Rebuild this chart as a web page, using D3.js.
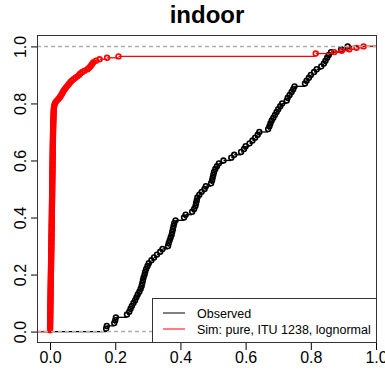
<!DOCTYPE html>
<html>
<head>
<meta charset="utf-8">
<script src="https://cdn.jsdelivr.net/npm/d3@7"></script>
<style>
  body { margin: 0; background: #fff; }
  svg text { font-family: "Liberation Sans", Arial, Helvetica, sans-serif; }
</style>
</head>
<body>
<svg id="chart"></svg>
<script>
var obsValues = [
  0.172, 0.174, 0.197, 0.200, 0.202,
  0.236, 0.243, 0.247, 0.251, 0.256, 0.261, 0.265, 0.269, 0.274, 0.278,
  0.281, 0.283, 0.285, 0.287, 0.290, 0.292, 0.295, 0.299, 0.303, 0.311,
  0.319, 0.328, 0.338, 0.345, 0.362, 0.364, 0.367, 0.370, 0.373, 0.375,
  0.377, 0.379, 0.381, 0.385, 0.411, 0.416, 0.436, 0.442, 0.446, 0.448,
  0.450, 0.452, 0.458, 0.465, 0.474, 0.478, 0.494, 0.497, 0.499, 0.501,
  0.503, 0.507, 0.512, 0.518, 0.532, 0.556, 0.565, 0.586, 0.595, 0.600,
  0.612, 0.621, 0.629, 0.637, 0.642, 0.669, 0.673, 0.676, 0.680, 0.685,
  0.690, 0.695, 0.700, 0.706, 0.712, 0.726, 0.729, 0.735, 0.741, 0.746,
  0.750, 0.782, 0.787, 0.794, 0.800, 0.810, 0.818, 0.832, 0.840, 0.845,
  0.850, 0.855, 0.862, 0.893, 0.913
];

// simulated sample (read off the red ECDF)
var simValues = [
  0.00002, 0.00008, 0.00013, 0.00021, 0.00027, 0.00034, 0.00040, 0.00047, 0.00052, 0.00060,
  0.00066, 0.00071, 0.00079, 0.00085, 0.00090, 0.00098, 0.00104, 0.00109, 0.00116, 0.00122,
  0.00130, 0.00137, 0.00143, 0.00150, 0.00158, 0.00163, 0.00171, 0.00178, 0.00184, 0.00191,
  0.00199, 0.00206, 0.00213, 0.00219, 0.00227, 0.00235, 0.00241, 0.00248, 0.00256, 0.00262,
  0.00270, 0.00277, 0.00285, 0.00291, 0.00298, 0.00306, 0.00313, 0.00320, 0.00327, 0.00335,
  0.00342, 0.00349, 0.00355, 0.00363, 0.00370, 0.00377, 0.00384, 0.00391, 0.00398, 0.00405,
  0.00412, 0.00419, 0.00426, 0.00432, 0.00440, 0.00447, 0.00453, 0.00460, 0.00467, 0.00474,
  0.00480, 0.00487, 0.00494, 0.00500, 0.00507, 0.00513, 0.00520, 0.00527, 0.00533, 0.00540,
  0.00546, 0.00553, 0.00559, 0.00566, 0.00572, 0.00578, 0.00585, 0.00591, 0.00597, 0.00604,
  0.00610, 0.00616, 0.00622, 0.00629, 0.00635, 0.00641, 0.00647, 0.00653, 0.00659, 0.00665,
  0.00671, 0.00677, 0.00683, 0.00689, 0.00695, 0.00701, 0.00707, 0.00713, 0.00719, 0.00725,
  0.00731, 0.00737, 0.00742, 0.00748, 0.00754, 0.00760, 0.00765, 0.00771, 0.00777, 0.00783,
  0.00789, 0.00795, 0.00801, 0.00807, 0.00813, 0.00820, 0.00826, 0.00832, 0.00839, 0.00846,
  0.00853, 0.00860, 0.00867, 0.00875, 0.00883, 0.00891, 0.00899, 0.00908, 0.00917, 0.00926,
  0.00936, 0.00946, 0.00957, 0.00968, 0.00980, 0.00992, 0.01005, 0.01018, 0.01032, 0.01047,
  0.01063, 0.01080, 0.01098, 0.01117, 0.01137, 0.01160,
  0.0120, 0.0128, 0.0137, 0.0150, 0.0175, 0.0210, 0.0250, 0.0290, 0.0320, 0.0345,
  0.0370, 0.0395, 0.0420, 0.0450, 0.0485, 0.0520, 0.0555, 0.0590, 0.0630, 0.0665,
  0.0720, 0.0780, 0.0840, 0.0890, 0.0930, 0.0990, 0.1060, 0.1150, 0.1200, 0.1240,
  0.1270, 0.1300, 0.1335, 0.1410, 0.1520, 0.1750, 0.2100, 0.8150, 0.8150, 0.8720,
  0.8950, 0.9180, 0.9400, 0.9620
];

var xTicks = [0, 0.2, 0.4, 0.6, 0.8, 1.0];
var yTicks = [0, 0.2, 0.4, 0.6, 0.8, 1.0];
var refLines = [0, 1];
var title = "indoor";
var legendLabels = ["Observed", "Sim: pure, ITU 1238, lognormal"];
var seriesColors = ["#000000", "#ff0000"];

var width = 385, height = 371;
var box = { left: 37, right: 377, top: 35, bottom: 343 };
var xlim = [-0.04, 1.003], ylim = [-0.04, 1.04];

var svg = d3.select('#chart')
  .attr('width', width)
  .attr('height', height);

var xScale = d3.scaleLinear().domain(xlim).range([box.left, box.right]);
var yScale = d3.scaleLinear().domain(ylim).range([box.bottom, box.top]);

// empirical cdf: unique sorted values with cumulative proportion
function ecdf(values) {
  var sorted = values.slice().sort(d3.ascending);
  var n = sorted.length, count = 0;
  return d3.rollups(sorted, function(v) { return v.length; }, function(d) { return d; })
    .map(function(g) { count += g[1]; return { x: g[0], y: count / n }; });
}

// horizontal step segments, extended to the plot edges
function steps(pts) {
  var segs = [{ x0: xlim[0], x1: pts[0].x, y: 0 }];
  pts.forEach(function(p, i) {
    segs.push({ x0: p.x, x1: i < pts.length - 1 ? pts[i + 1].x : xlim[1], y: p.y });
  });
  return segs;
}

svg.append('clipPath').attr('id', 'clip')
  .append('rect')
  .attr('x', box.left).attr('y', box.top)
  .attr('width', box.right - box.left).attr('height', box.bottom - box.top);

var plot = svg.append('g').attr('clip-path', 'url(#clip)');

[obsValues, simValues].forEach(function(values, k) {
  var pts = ecdf(values);
  var g = plot.append('g');
  g.selectAll('line').data(steps(pts))
    .enter().append('line')
    .attr('x1', function(d) { return xScale(d.x0); })
    .attr('x2', function(d) { return xScale(d.x1); })
    .attr('y1', function(d) { return yScale(d.y); })
    .attr('y2', function(d) { return yScale(d.y); })
    .attr('stroke', seriesColors[k])
    .attr('stroke-width', 1.3);
  g.selectAll('circle').data(pts)
    .enter().append('circle')
    .attr('cx', function(d) { return xScale(d.x); })
    .attr('cy', function(d) { return yScale(d.y); })
    .attr('r', 2.4)
    .attr('fill', 'none')
    .attr('stroke', seriesColors[k])
    .attr('stroke-width', 1.6);
});

// dashed reference lines at 0 and 1
plot.selectAll('.ref').data(refLines)
  .enter().append('line')
  .attr('class', 'ref')
  .attr('x1', box.left).attr('x2', box.right)
  .attr('y1', function(d) { return yScale(d); })
  .attr('y2', function(d) { return yScale(d); })
  .attr('stroke', '#b0b0b0')
  .attr('stroke-width', 1.5)
  .attr('stroke-dasharray', '4,3');

// axes
var xAxis = d3.axisBottom(xScale)
  .tickValues(xTicks)
  .tickFormat(d3.format('.1f'))
  .tickSize(7)
  .tickPadding(2);
var gx = svg.append('g')
  .attr('transform', 'translate(0,' + box.bottom + ')')
  .call(xAxis);
gx.select('.domain').remove();
gx.selectAll('text').attr('font-size', 16).attr('fill', '#000')
  .style('font-family', '"Liberation Sans", Arial, sans-serif');
gx.selectAll('line').attr('stroke', '#000');

var yAxis = d3.axisLeft(yScale)
  .tickValues(yTicks)
  .tickFormat(d3.format('.1f'))
  .tickSize(6);
var gy = svg.append('g')
  .attr('transform', 'translate(' + box.left + ',0)')
  .call(yAxis);
gy.select('.domain').remove();
gy.selectAll('line').attr('stroke', '#000');
gy.selectAll('text')
  .attr('transform', 'rotate(-90)')
  .attr('x', 0).attr('y', -11).attr('dy', 0)
  .attr('text-anchor', 'middle')
  .attr('font-size', 16).attr('fill', '#000')
  .style('font-family', '"Liberation Sans", Arial, sans-serif');

// plot box
svg.append('rect')
  .attr('x', box.left + 0.5).attr('y', box.top + 0.5)
  .attr('width', box.right - box.left - 1).attr('height', box.bottom - box.top - 1)
  .attr('fill', 'none').attr('stroke', '#333').attr('stroke-width', 1);

// title
svg.append('text')
  .attr('x', (box.left + box.right) / 2).attr('y', 23)
  .attr('text-anchor', 'middle')
  .attr('font-size', 24).attr('font-weight', 'bold')
  .text(title);

// legend
var legend = svg.append('g');
legend.append('rect')
  .attr('x', 152.5).attr('y', 298.5)
  .attr('width', box.right - 153).attr('height', box.bottom - 299)
  .attr('fill', '#fff').attr('stroke', '#333');
legendLabels.forEach(function(label, i) {
  var yy = 313 + i * 16;
  legend.append('line')
    .attr('x1', 163).attr('x2', 185)
    .attr('y1', yy).attr('y2', yy)
    .attr('stroke', seriesColors[i]).attr('stroke-width', 1);
  legend.append('text')
    .attr('x', 197).attr('y', yy + 4.5)
    .attr('font-size', 12.5)
    .text(label);
});
</script>
</body>
</html>
